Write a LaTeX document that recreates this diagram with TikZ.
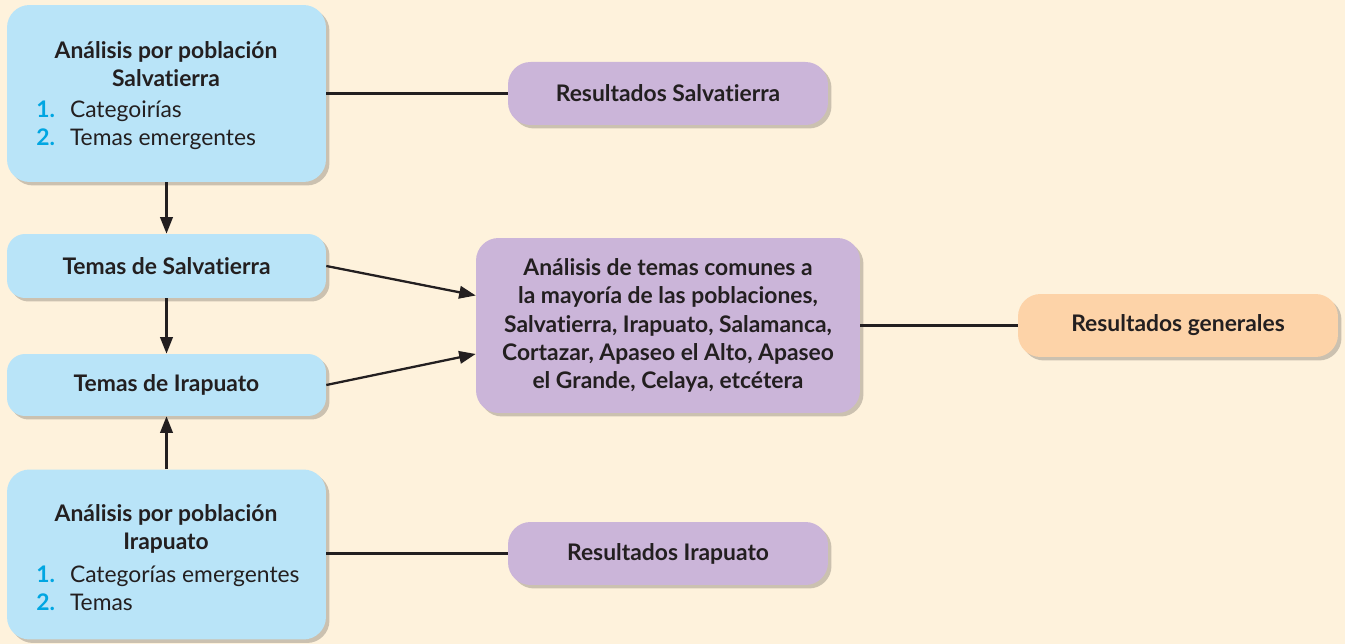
\documentclass[tikz,border=0pt]{standalone}
\usepackage{fontspec}
\setmainfont{Lato}[Ligatures=NoCommon]
\usepackage{tikz}
\usetikzlibrary{arrows.meta, positioning, shadows}
\definecolor{mybg}{RGB}{254,242,220}
\definecolor{myblue}{RGB}{185,228,248}
\definecolor{mylilac}{RGB}{203,181,217}
\definecolor{mypeach}{RGB}{253,211,168}
\definecolor{mynum}{RGB}{0,166,226}
\definecolor{mydark}{RGB}{35,31,32}
\newcommand{\nro}[1]{{\color{mynum}\bfseries #1}}
\tikzset{
  box/.style={rectangle, inner sep=0pt, rounded corners=0.45cm,
    font=\fontsize{13}{16}\selectfont\bfseries, text=mydark, align=center,
    drop shadow={shadow xshift=0.07cm, shadow yshift=-0.07cm, opacity=0.2, fill=black}},
  bluebox/.style={box, fill=myblue, minimum width=6.38cm},
  lilacbox/.style={box, fill=mylilac, minimum width=6.4cm, minimum height=1.26cm},
  peachbox/.style={box, fill=mypeach, minimum width=6.4cm, minimum height=1.26cm},
  title/.style={font=\fontsize{13}{16}\selectfont\bfseries, text=mydark, align=center, inner sep=0pt},
  lista/.style={font=\fontsize{13}{16}\selectfont, text=mydark, inner sep=0pt, anchor=west},
  arrow/.style={-{Triangle[length=0.33cm, width=0.25cm]}, line width=1.3pt, color=mydark},
  line/.style={line width=1.3pt, color=mydark}
}

\begin{document}
\begin{tikzpicture}[x=0.02cm, y=-0.02cm]
  % Background
  \fill[mybg] (0,0) rectangle (1345,644);
  \useasboundingbox (0,0) rectangle (1345,644);

  % Left column
  \node[bluebox, minimum height=3.54cm] (anaSal) at (166.5,93.5) {};
  \node[title] (anaSalT) at (166,64) {Análisis por población\\Salvatierra};
  \node[lista] (anaSalL) at (36,125.5) {\begin{tabular}{@{}r@{\hspace{0.3cm}}l@{}}\nro{1.} & Categoirías\\ \nro{2.} & Temas emergentes\end{tabular}};

  \node[bluebox, minimum height=1.28cm, rounded corners=0.36cm] (temSal) at (166.5,266) {Temas de Salvatierra};
  \node[bluebox, minimum height=1.24cm, rounded corners=0.36cm] (temIra) at (166.5,385) {Temas de Irapuato};

  \node[bluebox, minimum height=3.4cm] (anaIra) at (166.5,554.5) {};
  \node[title] (anaIraT) at (166,529) {Análisis por población\\Irapuato};
  \node[lista] (anaIraL) at (36,590.5) {\begin{tabular}{@{}r@{\hspace{0.3cm}}l@{}}\nro{1.} & Categorías emergentes\\ \nro{2.} & Temas\end{tabular}};

  % Results and common themes
  \node[lilacbox] (resSal) at (668,93.5) {Resultados Salvatierra};
  \node[lilacbox, minimum width=7.68cm, minimum height=3.5cm] (comunes) at (668,325.5)
    {Análisis de temas comunes a\\la mayoría de las poblaciones,\\Salvatierra, Irapuato, Salamanca,\\Cortazar, Apaseo el Alto, Apaseo\\el Grande, Celaya, etcétera};
  \node[lilacbox] (resIra) at (668,553.5) {Resultados Irapuato};
  \node[peachbox] (resGen) at (1178,325.5) {Resultados generales};

  % Connectors
  \draw[line] (anaSal.east) -- (resSal.west);
  \draw[line] (resIra.west -| anaIra.east) -- (resIra.west);
  \draw[line] (comunes.east) -- (resGen.west);
  \draw[arrow] (anaSal.south) -- (temSal.north);
  \draw[arrow] (temSal.south) -- (temIra.north);
  \draw[arrow] (anaIra.north) -- (temIra.south);
  \draw[arrow] (temSal.east) -- ([yshift=0.6cm]comunes.west);
  \draw[arrow] (temIra.east) -- ([yshift=-0.57cm]comunes.west);
\end{tikzpicture}
\end{document}
